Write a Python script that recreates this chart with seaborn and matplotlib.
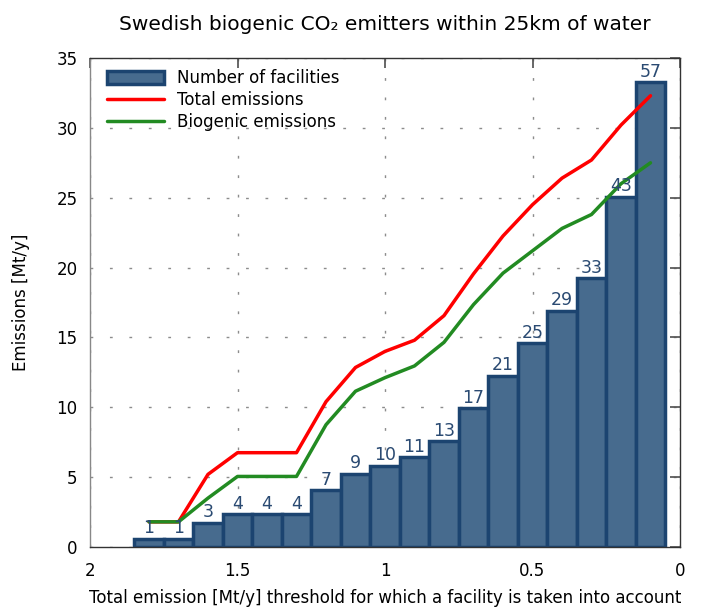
import matplotlib
matplotlib.use("Agg")
import matplotlib.pyplot as plt
import seaborn as sns
import pandas as pd
import numpy as np

thresholds = [1.8, 1.7, 1.6, 1.5, 1.4, 1.3, 1.2, 1.1, 1.0, 0.9, 0.8, 0.7, 0.6, 0.5, 0.4, 0.3, 0.2, 0.1]
facilities = [1, 1, 3, 4, 4, 4, 7, 9, 10, 11, 13, 17, 21, 25, 29, 33, 43, 57]
total_em = [1.8, 1.8, 5.2, 6.75, 6.75, 6.75, 10.4, 12.85, 14.0, 14.8, 16.56, 19.55, 22.26, 24.5, 26.4, 27.7, 30.2, 32.3]
bio_em = [1.8, 1.8, 3.5, 5.05, 5.05, 5.05, 8.75, 11.15, 12.12, 12.96, 14.65, 17.35, 19.6, 21.2, 22.8, 23.8, 26.0, 27.5]
bar_scale = 35 / 60

sns.set_theme(style="white")
plt.rcParams['font.family'] = ['DejaVu Sans']
plt.rcParams['text.color'] = 'black'
plt.rcParams['axes.labelcolor'] = 'black'
plt.rcParams['xtick.color'] = 'black'
plt.rcParams['ytick.color'] = 'black'

df = pd.DataFrame({"threshold": thresholds, "facilities": facilities,
                   "height": [f * bar_scale for f in facilities],
                   "total": total_em, "bio": bio_em})

fig = plt.figure(figsize=(7.02, 6.09), dpi=100)
ax = fig.add_axes([90/702, 1-547/609, 590/702, 489/609])

ax.bar(df["threshold"], df["height"], width=0.1, color="#476b8e",
       edgecolor="#1c4470", linewidth=2.5, label="Number of facilities", zorder=2)
sns.lineplot(data=df, x="threshold", y="total", ax=ax, color="red", linewidth=2.5,
             label="Total emissions", zorder=3)
sns.lineplot(data=df, x="threshold", y="bio", ax=ax, color="#228b22", linewidth=2.5,
             label="Biogenic emissions", zorder=3)

for x, h, n in zip(df["threshold"], df["height"], df["facilities"]):
    ax.text(x, h + 0.1, str(n), ha="center", va="bottom", fontsize=12.5, color="#2a4a72", zorder=4)

ax.set_xlim(2, 0)
ax.set_ylim(0, 35)
ax.set_xticks([2, 1.5, 1, 0.5, 0])
ax.set_xticklabels(["2", "1.5", "1", "0.5", "0"])
ax.set_yticks(range(0, 36, 5))
ax.tick_params(axis="both", direction="in", top=True, right=True, length=7,
               labelsize=12, pad=9, color="#555555")
ax.tick_params(axis="x", pad=11)
ax.grid(True, linestyle=(0, (2, 12)), color="#8c8c8c", linewidth=1)
for s in ax.spines.values():
    s.set_color("#333333")
    s.set_linewidth(1)
ax.spines["left"].set_color("#888888")

ax.set_xlabel("Total emission [Mt/y] threshold for which a facility is taken into account",
              fontsize=12, labelpad=6)
ax.set_ylabel("Emissions [Mt/y]", fontsize=12, labelpad=19)
ax.set_title("Swedish biogenic CO\u2082 emitters within 25km of water", fontsize=14.5, pad=20)

handles, labels = ax.get_legend_handles_labels()
order = [labels.index(l) for l in ["Number of facilities", "Total emissions", "Biogenic emissions"]]
ax.legend([handles[i] for i in order], [labels[i] for i in order],
          loc="upper left", bbox_to_anchor=(0.0136, 0.996), frameon=False, fontsize=12,
          handlelength=3.4, borderaxespad=0.25, borderpad=0.3, labelspacing=0.25,
          handleheight=0.8, handletextpad=0.8)

fig.savefig("out.png", dpi=100)
